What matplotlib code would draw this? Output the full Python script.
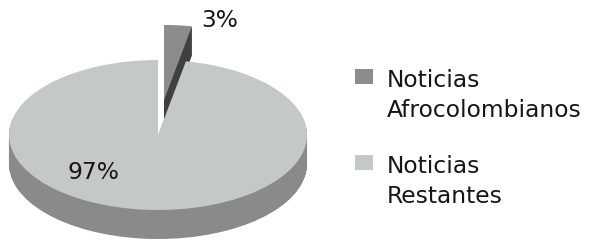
import numpy as np
import matplotlib
matplotlib.use("Agg")
import matplotlib.pyplot as plt
from matplotlib.patches import Rectangle

# data
labels = ["Noticias\nAfrocolombianos", "Noticias\nRestantes"]
values = [3, 97]
pct_labels = ["3%", "97%"]

# colours (top faces and sides)
top_colors = ["#8c8c8c", "#c5c8c9"]
side_colors = ["#404040", "#8a8a8a"]

W, H = 599, 243
plt.rcParams["font.family"] = ["DejaVu Sans"]

fig = plt.figure(figsize=(W / 100, H / 100), dpi=100)
ax = fig.add_axes([0, 0, 1, 1])

# pie geometry in pixels -> data units (radius 1 = 149 px wide, 75 px tall)
cx, cy, rx, ry = 158, 135, 149, 75
depth = 29 / ry
slice_off = (6 / rx, 35 / ry)   # where the small slice is pulled out to

layers = np.linspace(-depth, 0, 40)[:-1]
kw = dict(startangle=90, counterclock=False, radius=1,
          wedgeprops=dict(linewidth=0, antialiased=True))

# side of the big slice
for dz in layers:
    ax.pie(values, colors=["none", side_colors[1]], center=(0, dz), **kw)
# side and top of the pulled-out slice
for dz in layers:
    ax.pie(values, colors=[side_colors[0], "none"],
           center=(slice_off[0], slice_off[1] + dz), **kw)
ax.pie(values, colors=[top_colors[0], "none"], center=slice_off, **kw)
# top of the big slice
ax.pie(values, colors=["none", top_colors[1]], center=(0, 0), **kw)

ax.set_aspect("auto")
ax.set_xlim(-cx / rx, (W - cx) / rx)
ax.set_ylim(-(H - cy) / ry, cy / ry)
ax.axis("off")

def px(x, y):
    return ((x - cx) / rx, (cy - y) / ry)

font = dict(fontsize=16.8, color="#161616")
ax.text(*px(220, 20), pct_labels[0], ha="center", va="center", **font)
ax.text(*px(93, 172), pct_labels[1], ha="center", va="center", **font)

# legend
leg_tops = [69, 155]
for lab, col, ty in zip(labels, top_colors, leg_tops):
    fig.add_artist(Rectangle((355 / W, 1 - (ty + 15) / H), 18 / W, 15 / H,
                             transform=fig.transFigure, facecolor=col,
                             edgecolor="none"))
    l1, l2 = lab.split("\n")
    fig.text(387 / W, 1 - (ty + 18) / H, l1, ha="left", va="baseline", **font)
    fig.text(387 / W, 1 - (ty + 48) / H, l2, ha="left", va="baseline", **font)

fig.savefig("out.png", dpi=100, facecolor="white")
